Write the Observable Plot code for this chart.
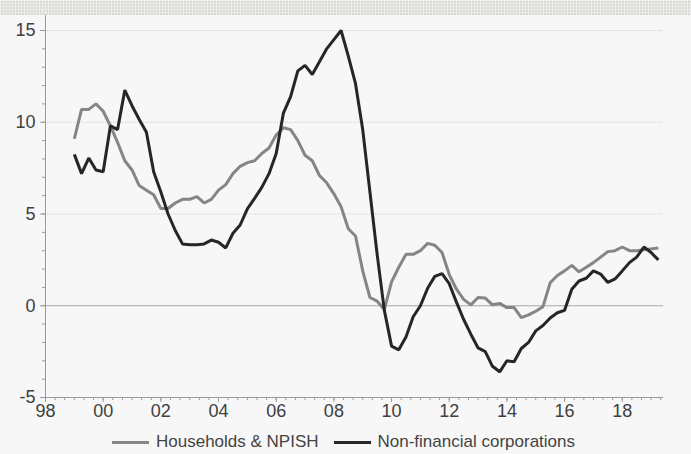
<!DOCTYPE html>
<html>
<head>
<meta charset="utf-8">
<script src="https://cdn.jsdelivr.net/npm/d3@7"></script>
<script src="https://cdn.jsdelivr.net/npm/@observablehq/plot@0.6"></script>
<style>
  html, body { margin: 0; padding: 0; background: #f7f7f7; }
  body { width: 691px; height: 454px; overflow: hidden; font-family: "Liberation Sans", Arial, sans-serif; }
  #band { height: 15px; background-color: #d9d9d5;
    background-image: linear-gradient(90deg, rgba(255,255,255,.45) 1px, transparent 1px),
                      linear-gradient(rgba(255,255,255,.45) 1px, transparent 1px);
    background-size: 3px 3px; }
  #chart svg { display: block; }
  #legend { display: flex; justify-content: center; align-items: center; gap: 15px;
    font-size: 17px; color: #444; margin-top: 7px; padding-right: 4px; }
  .item { display: flex; align-items: center; gap: 7px; }
  .sw { width: 37px; height: 3px; }
</style>
</head>
<body>
<div id="band"></div>
<div id="chart"></div>
<div id="legend">
  <div class="item"><span class="sw" style="background:#858585"></span><span>Households &amp; NPISH</span></div>
  <div class="item"><span class="sw" style="background:#262626"></span><span>Non-financial corporations</span></div>
</div>
<script>
const firstYear = 1999;
const seriesNames = ["Households & NPISH", "Non-financial corporations"];
const xTickYears = [1998, 2000, 2002, 2004, 2006, 2008, 2010, 2012, 2014, 2016, 2018];
const yTicks = [-5, 0, 5, 10, 15];

const households = [
  9.1, 10.7, 10.7, 11.0,
  10.6, 9.8, 8.9, 7.9,
  7.4, 6.55, 6.3, 6.05,
  5.3, 5.3, 5.6, 5.8,
  5.8, 5.95, 5.6, 5.8,
  6.3, 6.6, 7.2, 7.6,
  7.8, 7.9, 8.3, 8.6,
  9.3, 9.7, 9.6, 9.0,
  8.2, 7.9, 7.1, 6.7,
  6.1, 5.4, 4.2, 3.8,
  1.9, 0.45, 0.25, -0.2,
  1.3, 2.1, 2.8, 2.8,
  3.0, 3.4, 3.3, 2.9,
  1.7, 0.9, 0.35, 0.05,
  0.45, 0.42, 0.05, 0.13,
  -0.1, -0.1, -0.65, -0.5,
  -0.3, -0.05, 1.25, 1.65,
  1.9, 2.2, 1.85, 2.1,
  2.35, 2.65, 2.95, 3.0,
  3.2, 3.0, 3.0, 3.05,
  3.1, 3.15
];

const corporations = [
  8.25, 7.2, 8.05, 7.4,
  7.3, 9.8, 9.6, 11.75,
  10.9, 10.15, 9.45, 7.3,
  6.2, 5.0, 4.1, 3.37,
  3.33, 3.33, 3.37, 3.58,
  3.46, 3.15, 3.95, 4.4,
  5.28, 5.85, 6.45, 7.2,
  8.3, 10.5, 11.4, 12.8,
  13.1, 12.6, 13.3, 14.0,
  14.5, 15.0, 13.6, 12.1,
  9.6, 6.2, 2.8, -0.25,
  -2.2, -2.4, -1.7, -0.6,
  0.0, 0.95, 1.6, 1.75,
  1.2, 0.2, -0.75, -1.55,
  -2.3, -2.5, -3.3, -3.6,
  -3.0, -3.05, -2.33, -2.0,
  -1.37, -1.08, -0.67, -0.38,
  -0.25, 0.9, 1.35, 1.5,
  1.9, 1.73, 1.27, 1.46,
  1.9, 2.35, 2.65, 3.2,
  2.9, 2.5
];

const colors = ["#858585", "#262626"];

// quarterly time index: Q1 of each year sits at the year mark
const t = households.map((_, i) => firstYear + Math.floor(i / 4) + (i % 4) / 4);
const data = [];
households.forEach((v, i) => data.push({t: t[i], v, s: seriesNames[0]}));
corporations.forEach((v, i) => data.push({t: t[i], v, s: seriesNames[1]}));

const xMax = 2019.43;
const chart = Plot.plot({
  width: 691,
  height: 410,
  marginLeft: 45,
  marginRight: 28,
  marginTop: 15,
  marginBottom: 28,
  style: {background: "transparent", fontFamily: "'Liberation Sans', Arial, sans-serif", fontSize: "18px", color: "#404040", overflow: "visible"},
  x: {domain: [1998, xMax], axis: null},
  y: {domain: [-5, 15], axis: null},
  color: {domain: seriesNames, range: colors},
  marks: [
    Plot.ruleY([5, 10, 15], {x1: 1998, x2: xMax, stroke: "#cfcfcf", strokeWidth: 1, strokeDasharray: "1,1"}),
    Plot.ruleY([0], {x1: 1998, x2: xMax, stroke: "#a6a6a6", strokeWidth: 1.2}),
    Plot.ruleY([-5], {x1: 1998, x2: xMax, stroke: "#9a9a9a", strokeWidth: 1}),
    Plot.ruleX([1998], {y1: -5, y2: 15.82, stroke: "#9a9a9a", strokeWidth: 1}),
    Plot.axisY({ticks: d3.range(-5, 16), tickSize: 3, text: null, label: null, stroke: "#9a9a9a"}),
    Plot.axisY({ticks: yTicks, tickSize: 5, tickPadding: 5, label: null, stroke: "#9a9a9a", fill: "#404040", fontSize: 18,
      tickFormat: d => String(d)}),
    Plot.axisX({ticks: d3.range(1998, 2019.4, 1/3), tickSize: 3, text: null, label: null, stroke: "#9a9a9a"}),
    Plot.axisX({ticks: xTickYears, tickSize: 5, tickPadding: 2, label: null, stroke: "#9a9a9a", fill: "#404040", fontSize: 18,
      tickFormat: d => String(d % 100).padStart(2, "0")}),
    Plot.line(data, {x: "t", y: "v", z: "s", stroke: "s", strokeWidth: 3, strokeLinejoin: "miter", strokeLinecap: "butt"})
  ]
});
document.getElementById("chart").append(chart);
</script>
</body>
</html>
